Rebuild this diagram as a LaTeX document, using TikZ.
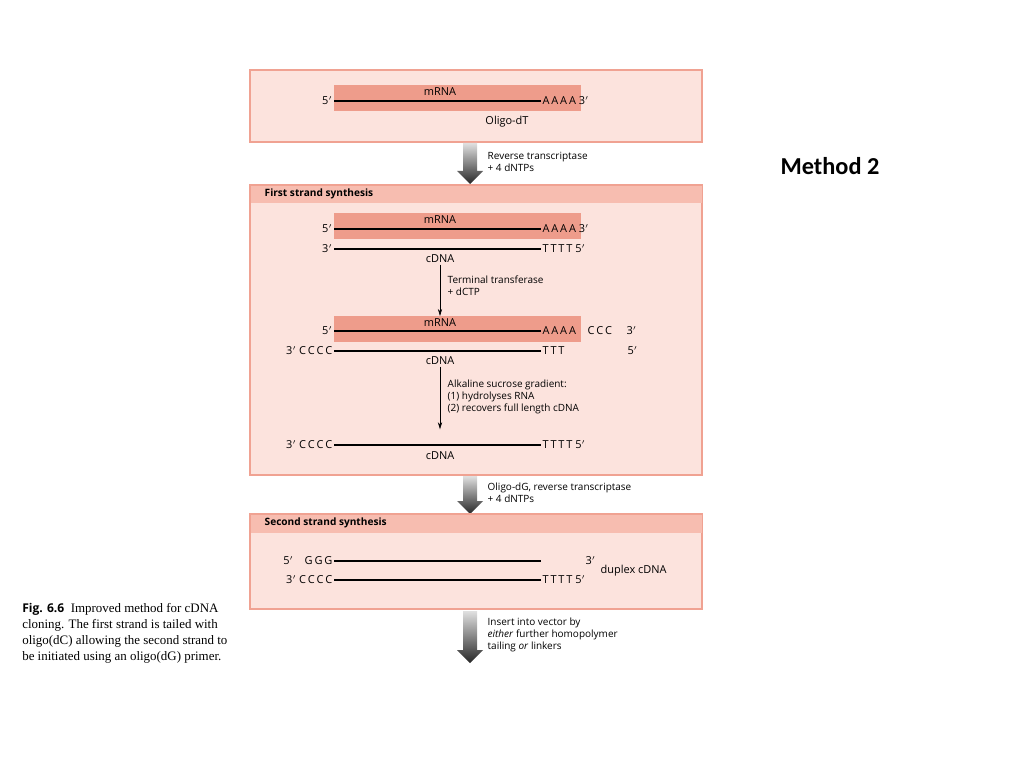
\documentclass[tikz,border=0pt]{standalone}
\usepackage{fontspec}
\setmainfont{Liberation Serif}
\newfontfamily\figfont{Open Sans}
\newfontfamily\methodfont{Carlito}
\usetikzlibrary{arrows.meta, positioning}

\definecolor{boxfill}{HTML}{FCE3DD}
\definecolor{boxedge}{HTML}{F0A292}
\definecolor{headfill}{HTML}{F7BDB0}
\definecolor{rnafill}{HTML}{EE9C8B}

\newcommand{\pr}{\ensuremath{'}}
% shaded step arrow: x, top y, tip y
\newcommand{\bigarrow}[3]{%
  \shade[top color=black!12, bottom color=black!85]
    ({#1-7},#2) -- ({#1+7},#2) -- ({#1+7},{#3-13}) -- ({#1+13},{#3-13})
    -- (#1,#3) -- ({#1-13},{#3-13}) -- ({#1-7},{#3-13}) -- cycle;}

\tikzset{
  lab/.style={font=\figfont\fontsize{7.8}{9}\selectfont, inner sep=1pt},
  note/.style={font=\figfont\fontsize{7.1}{8.6}\selectfont, inner sep=1pt, align=left, anchor=north west},
  header/.style={font=\figfont\bfseries\fontsize{7.2}{8.6}\selectfont, inner sep=1pt, anchor=west},
  strand/.style={line width=1.3pt, black},
  fine/.style={thin, -{Stealth[length=5pt, width=3pt]}},
  stagebox/.style={fill=boxfill, draw=boxedge, line width=1pt},
  rnabox/.style={fill=rnafill, minimum width=247*0.025cm, minimum height=26*0.025cm,
    inner sep=0pt, anchor=north west},
}

\begin{document}
\begin{tikzpicture}[x=0.025cm, y=-0.025cm]
  \useasboundingbox (0,0) rectangle (1024,768);

  % Starting mRNA
  \draw[stagebox] (250,70) rectangle (702,142);
  \node[rnabox] (r1) at (334,85) {};
  \node[lab] at (440,92) {mRNA};
  \node[lab, anchor=east] (a5) at (334,101) {5\pr};
  \node[lab, anchor=west] (a3) at (541,101) {A\,A\,A\,A 3\pr};
  \draw[strand] (a5.east) -- (a3.west);
  \node[lab] (odt) at (507,122) {Oligo-dT};

  \bigarrow{470}{143}{184}
  \node[note] at (486,150) {Reverse transcriptase\\+ 4 dNTPs};

  % First strand synthesis
  \draw[stagebox] (250,185) rectangle (702,475);
  \fill[headfill] (250.5,185.5) rectangle (701.5,203);
  \node[header] at (263,194) {First strand synthesis};

  \node[rnabox] (r2) at (334,213) {};
  \node[lab] at (440,220) {mRNA};
  \node[lab, anchor=east] (b5) at (334,229) {5\pr};
  \node[lab, anchor=west] (b3) at (541,229) {A\,A\,A\,A 3\pr};
  \draw[strand] (b5.east) -- (b3.west);
  \node[lab, anchor=east] (c3) at (334,249) {3\pr};
  \node[lab, anchor=west] (c5) at (541,249) {T\,T\,T\,T 5\pr};
  \draw[strand] (c3.east) -- (c5.west);
  \node[lab] (cd1) at (440,259) {cDNA};

  \node[rnabox] (r3) at (334,316) {};
  \draw[fine] (cd1.south) -- (cd1.south |- r3.north);
  \node[note] at (446,274) {Terminal transferase\\+ dCTP};

  \node[lab] at (440,323) {mRNA};
  \node[lab, anchor=east] (d5) at (334,331) {5\pr};
  \node[lab, anchor=west] (d3) at (541,331) {A\,A\,A\,A};
  \node[lab, anchor=west] (dc) at (586,331) {C\,C\,C};
  \node[lab, anchor=west] (de) at (625,331) {3\pr};
  \draw[strand] (d5.east) -- (d3.west);
  \node[lab, anchor=east] (e3) at (334,351) {3\pr\ C\,C\,C\,C};
  \node[lab, anchor=west] (e5) at (541,351) {T\,T\,T};
  \node[lab, anchor=west] (ee) at (626,351) {5\pr};
  \draw[strand] (e3.east) -- (e5.west);
  \node[lab] (cd2) at (440,361) {cDNA};
  \node[note] at (446,378) {Alkaline sucrose gradient:\\(1) hydrolyses RNA\\(2) recovers full length cDNA};

  \node[lab, anchor=east] (f3) at (334,445) {3\pr\ C\,C\,C\,C};
  \node[lab, anchor=west] (f5) at (541,445) {T\,T\,T\,T 5\pr};
  \draw[strand] (f3.east) -- (f5.west);
  \node[lab] at (440,456) {cDNA};
  \draw[fine, shorten >=10*0.025cm] (cd2.south) -- (cd2.south |- f3.north);

  \bigarrow{470}{476}{514}
  \node[note] at (486,481) {Oligo-dG, reverse transcriptase\\+ 4 dNTPs};

  % Second strand synthesis
  \draw[stagebox] (250,514) rectangle (702,609);
  \fill[headfill] (250.5,514.5) rectangle (701.5,533);
  \node[header] at (263,523) {Second strand synthesis};

  \node[lab, anchor=east] (g5) at (334,561) {5\pr\hspace{8pt}G\,G\,G};
  \node[lab, anchor=east] (h3) at (334,580) {3\pr\ C\,C\,C\,C};
  \node[lab, anchor=west] (h5) at (541,580) {T\,T\,T\,T 5\pr};
  \node[lab, anchor=west] (g3) at (584,561) {3\pr};
  \draw[strand] (g5.east) -- (g5.east -| h5.west);
  \draw[strand] (h3.east) -- (h5.west);
  \node[lab, anchor=west] at (599,571) {duplex cDNA};

  \bigarrow{470}{611}{663}
  \node[note] at (486,616) {Insert into vector by\\\emph{either} further homopolymer\\tailing \emph{or} linkers};

  % Caption and title
  \node[anchor=north west, align=left, inner sep=0pt, font=\fontsize{9.2}{11.4}\selectfont] (cap) at (22,603)
    {{\figfont\bfseries\fontsize{8.6}{11.4}\selectfont Fig. 6.6}\enspace Improved method for cDNA\\
     cloning. The first strand is tailed with\\
     oligo(dC) allowing the second strand to\\
     be initiated using an oligo(dG) primer.};
  \node[font=\methodfont\bfseries\fontsize{17.3}{20}\selectfont] (m2) at (830,166) {Method 2};
\end{tikzpicture}
\end{document}
